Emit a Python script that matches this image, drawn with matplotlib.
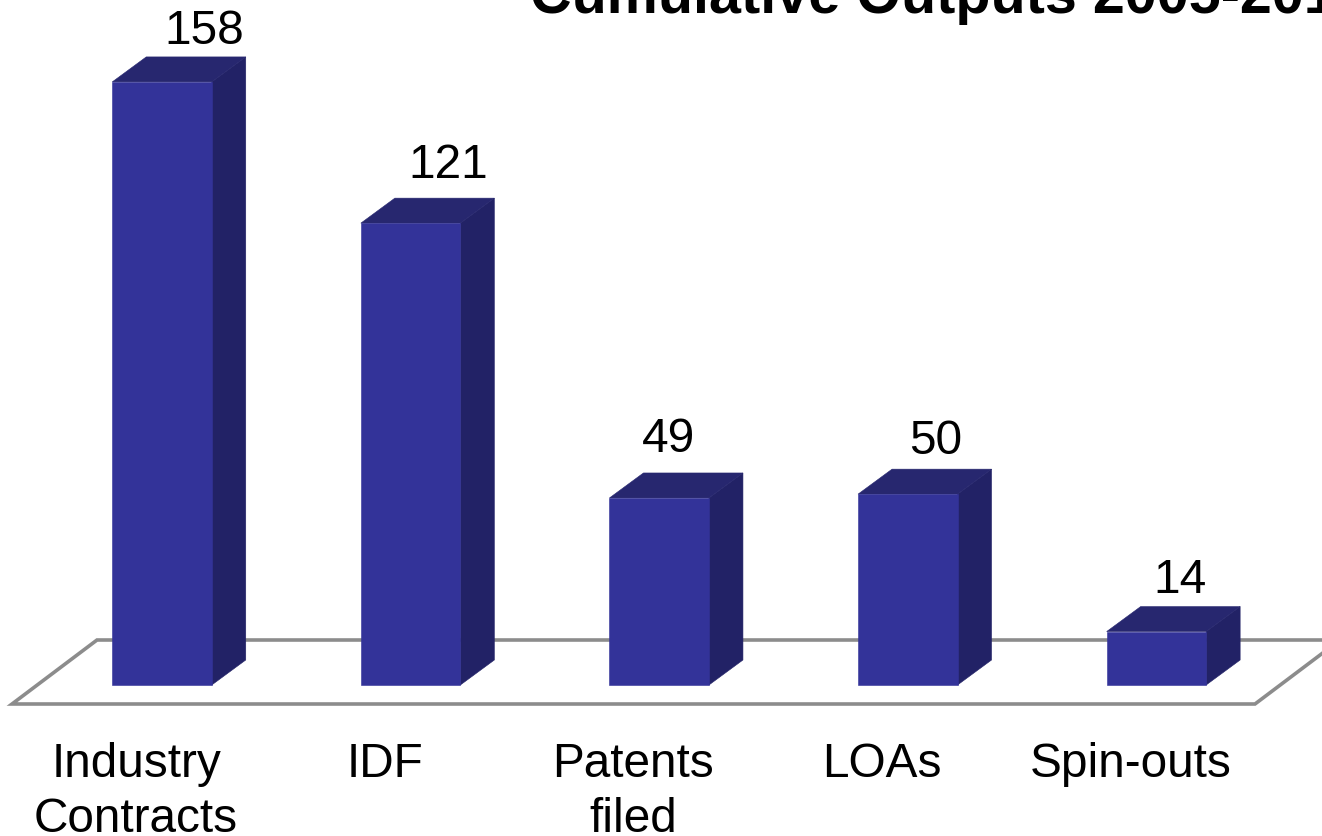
import matplotlib
matplotlib.use("Agg")
import matplotlib.pyplot as plt
from matplotlib.patches import Polygon

plt.rcParams['font.family'] = ['Liberation Sans', 'DejaVu Sans']

categories = ["Industry\nContracts", "IDF", "Patents\nfiled", "LOAs", "Spin-outs"]
outputs = [158, 121, 49, 50, 14]
title = "Cumulative Outputs 2005-2012"

# pixel sizes of the picture
W, H = 1322, 837
base_px = 686        # y pixel of value 0
px_per_value = 3.817
px_per_cat = 248.6
first_px = 162       # x pixel of the first bar centre

FRONT = "#333399"
SIDE = "#222266"
TOP = "#27276f"
FLOOR = "#8c8c8c"

# the value labels are not centred the same way on each bar
label_dx = [42, 38, 9, 28, 24]
label_dy = [26, 34, 34, 29, 27]

fig = plt.figure(figsize=(W / 100, H / 100), dpi=100)
ax = fig.add_axes([0, 0, 1, 1])
ax.set_xlim(-first_px / px_per_cat, (W - first_px) / px_per_cat)
ax.set_ylim(-(H - base_px) / px_per_value, base_px / px_per_value)
ax.axis("off")

bar_w = 99.5 / px_per_cat
dx = 34 / px_per_cat
dy = 25 / px_per_value


def floor_pts():
    # from pixels, the floor has no data behind it
    pts = [(12, 705), (1255, 705), (1340, 641), (97, 641)]
    return [((px - first_px) / px_per_cat, (base_px - py) / px_per_value) for px, py in pts]


ax.add_patch(Polygon(floor_pts(), closed=True, fc="white", ec=FLOOR, lw=2.6, joinstyle="miter", zorder=1))

for i, v in enumerate(outputs):
    l = i - bar_w / 2
    r = i + bar_w / 2
    ax.add_patch(Polygon([(r, 0), (r + dx, dy), (r + dx, v + dy), (r, v)], fc=SIDE, ec=SIDE, lw=0.4, zorder=3))
    ax.add_patch(Polygon([(l, v), (r, v), (r + dx, v + dy), (l + dx, v + dy)], fc=TOP, ec=TOP, lw=0.4, zorder=3))
    ax.add_patch(Polygon([(l, 0), (r, 0), (r, v), (l, v)], fc=FRONT, ec=FRONT, lw=0.4, zorder=3))
    ax.text(i + label_dx[i] / px_per_cat, v + dy + label_dy[i] / px_per_value, str(v),
            fontsize=34.4, ha="center", va="center", color="black", zorder=4)

for i, c in enumerate(categories):
    ax.text(i - 26 / px_per_cat, -(742 - base_px) / px_per_value, c, fontsize=34.4,
            ha="center", va="top", linespacing=1.28, color="black", clip_on=False)

ax.text((530 - first_px) / px_per_cat, (base_px - 13) / px_per_value, title, fontsize=41.4,
        fontweight="bold", ha="left", va="baseline", color="black", clip_on=True)

fig.savefig("out.png", dpi=100)
